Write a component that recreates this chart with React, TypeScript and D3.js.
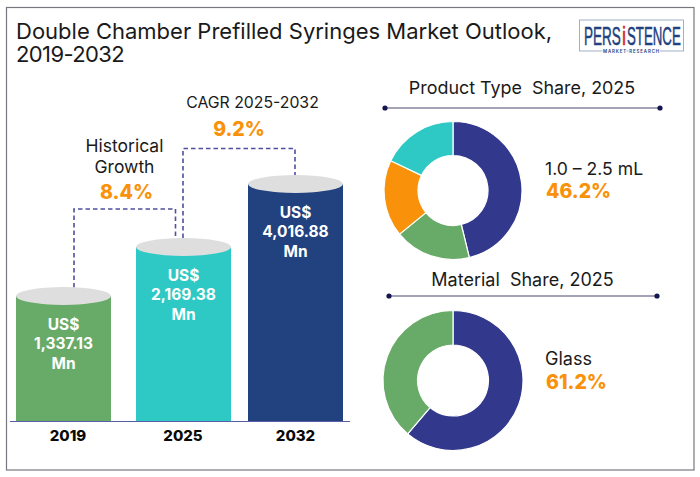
import React from 'react';
import * as d3 from 'd3';

const title = ['Double Chamber Prefilled Syringes Market Outlook,', '2019-2032'];

const years = ['2019', '2025', '2032'];
const marketValues = [1337.13, 2169.38, 4016.88];
const marketLabels = ['1,337.13', '2,169.38', '4,016.88'];
const barColors = ['#68aa68', '#2ec9c4', '#21417f'];

const productShares = [46.2, 17.9, 18.0, 17.9];
const productColors = ['#32398c', '#68aa68', '#f9920a', '#2ec9c4'];
const materialShares = [61.2, 38.8];
const materialColors = ['#32398c', '#68aa68'];

const FONT = 'Inter, "Noto Sans", sans-serif';
const LOGO_FONT = '"Liberation Sans", sans-serif';
const ORANGE = '#f9920a';
const DASH = '#4f4f9f';
const INK = '#1a1a1a';

// the bars in the picture are not proportional to the values, so the scale is piecewise
const y = d3.scaleLinear().domain([0, ...marketValues]).range([421, 296, 247, 184]);

const BAR_W = 95;
const barCenters = [63.5, 183.5, 295.5];
const labelCenters = [68, 183, 295.5];
const x = d3.scaleOrdinal<string, number>().domain(years).range(barCenters);

const Donut = ({ values, colors, cx, cy, r, r0 }: any) => {
  const slices = d3.pie<number>().sort(null)(values);
  const arc = d3.arc<d3.PieArcDatum<number>>().innerRadius(r0).outerRadius(r);
  return (
    <g transform={`translate(${cx},${cy})`}>
      {slices.map((s, i) => (
        <path key={i} d={arc(s)!} fill={colors[i]} stroke="#fff" strokeWidth={1.2} />
      ))}
    </g>
  );
};

const Divider = ({ x1, x2, yPos }: any) => (
  <g>
    <line x1={x1} x2={x2} y1={yPos} y2={yPos} stroke="#85859c" strokeWidth={1.6} />
    <circle cx={x1} cy={yPos} r={2.6} fill="#14174f" />
    <circle cx={x2} cy={yPos} r={2.6} fill="#14174f" />
  </g>
);

export default function App() {
  return (
    <svg
      width={700}
      height={477}
      style={{ position: 'absolute', left: 0, top: 0, background: '#fff' }}
      fontFamily={FONT}
    >
      <rect x={6.5} y={7.5} width={687.5} height={462.5} fill="#fff" stroke="#77777f" strokeWidth={1.2} />

      <text x={16} y={38.5} fontSize={22} fill={INK}>{title[0]}</text>
      <text x={16} y={61.5} fontSize={22} fill={INK} letterSpacing={-0.6}>{title[1]}</text>

      {/* logo, letters squeezed to the narrow cut of the original */}
      <rect x={579.5} y={20} width={104} height={31} fill="#fff" stroke="#9fb0c6" strokeWidth={1} />
      <g fontFamily={LOGO_FONT} fontSize={26} fill="#21417f" stroke="#21417f" strokeWidth={0.5}>
        <text transform="translate(584,44.5) scale(0.52,1)">PERS</text>
        <text transform="translate(622,44.5) scale(0.7,1)" fill="#d8232a" stroke="#d8232a">i</text>
        <text transform="translate(627,44.5) scale(0.51,1)">STENCE</text>
      </g>
      <text x={631.5} y={52.5} fontSize={4.4} fontWeight={600} textAnchor="middle" fill="#21417f" letterSpacing={0.9} stroke="#fff" strokeWidth={2} paintOrder="stroke">MARKET RESEARCH</text>

      {/* dashed connectors */}
      <path d="M74,295V209H175.5V238" fill="none" stroke={DASH} strokeWidth={1.6} strokeDasharray="4.5 3" />
      <path d="M183,238V148.5H295V178" fill="none" stroke={DASH} strokeWidth={1.6} strokeDasharray="4.5 3" />

      {/* cylinders */}
      {years.map((yr, i) => {
        const cx = x(yr);
        const top = y(marketValues[i]);
        return (
          <g key={yr}>
            <rect x={cx - BAR_W / 2} y={top} width={BAR_W} height={y(0) - top} fill={barColors[i]} />
            <ellipse cx={cx} cy={top} rx={BAR_W / 2} ry={9} fill="#dedede" />
            <g fill="#fff" fontWeight={700} fontSize={15.5} textAnchor="middle">
              <text x={cx} y={top + 33.5}>US$</text>
              <text x={cx} y={top + 53}>{marketLabels[i]}</text>
              <text x={cx} y={top + 72.5}>Mn</text>
            </g>
            <text x={labelCenters[i]} y={441} fontSize={15} fontWeight={800} fill="#0a0a0a" textAnchor="middle">{yr}</text>
          </g>
        );
      })}
      <line x1={10} x2={350} y1={421.5} y2={421.5} stroke="#5a5ea8" strokeWidth={1.2} />

      <text x={124.5} y={152} fontSize={17.5} fill={INK} textAnchor="middle">Historical</text>
      <text x={124.5} y={173} fontSize={17.5} fill={INK} textAnchor="middle">Growth</text>
      <text x={126.5} y={199} fontSize={19.5} fontWeight={800} fill={ORANGE} textAnchor="middle">8.4%</text>

      <text x={252.5} y={108} fontSize={15.8} fill={INK} textAnchor="middle">CAGR 2025-2032</text>
      <text x={239} y={136} fontSize={19.5} fontWeight={800} fill={ORANGE} textAnchor="middle">9.2%</text>

      {/* right panels */}
      <text x={522} y={94} fontSize={17.9} fill={INK} textAnchor="middle" xmlSpace="preserve">Product Type  Share, 2025</text>
      <Divider x1={385} x2={660} yPos={108} />
      <Donut values={productShares} colors={productColors} cx={453} cy={190.5} r={69} r0={35} />
      <text x={545} y={175} fontSize={17.6} fill={INK}>1.0 – 2.5 mL</text>
      <text x={546} y={198} fontSize={19.5} fontWeight={800} fill={ORANGE}>46.2%</text>

      <text x={522.5} y={286} fontSize={18} fill={INK} textAnchor="middle" xmlSpace="preserve">Material  Share, 2025</text>
      <Divider x1={389} x2={657} yPos={296} />
      <Donut values={materialShares} colors={materialColors} cx={453} cy={380.5} r={70} r0={35.5} />
      <text x={545} y={365} fontSize={18} fill={INK}>Glass</text>
      <text x={546} y={389} fontSize={19.5} fontWeight={800} fill={ORANGE}>61.2%</text>
    </svg>
  );
}
